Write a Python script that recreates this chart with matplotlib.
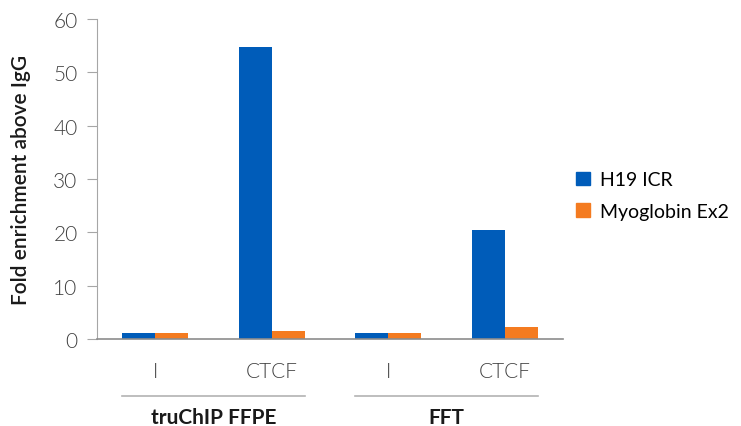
import matplotlib.pyplot as plt
import matplotlib.transforms as mtransforms
from matplotlib.patches import Patch
import numpy as np

plt.rcParams['font.family'] = ['Lato', 'DejaVu Sans']

# data
categories = ['I', 'CTCF', 'I', 'CTCF']
groups = ['truChIP FFPE', 'FFT']
group_members = [[0, 1], [2, 3]]
series_names = ['H19 ICR', 'Myoglobin Ex2']
h19_icr = [1.1, 54.8, 1.1, 20.4]
myoglobin_ex2 = [1.1, 1.5, 1.1, 2.2]
colors = ['#005CB9', '#F47B20']

fig = plt.figure(figsize=(7.41, 4.27), dpi=100)
ax = fig.add_axes([0.1309, 0.2037, 0.7598 - 0.1309, 0.9532 - 0.2037])

x = np.arange(len(categories))
w = 0.283
ax.bar(x - w / 2, h19_icr, w, color=colors[0], label=series_names[0])
ax.bar(x + w / 2, myoglobin_ex2, w, color=colors[1], label=series_names[1])

ax.set_xlim(-0.5, len(categories) - 0.5)
ax.set_ylim(0, 60)
ax.set_yticks(range(0, 61, 10))
ax.set_xticks(x)
ax.set_xticklabels(categories)

for s in ['top', 'right']:
    ax.spines[s].set_visible(False)
ax.spines['left'].set_color('#A6A6A6')
ax.spines['bottom'].set_color('#8C8C8C')
ax.spines['bottom'].set_linewidth(1.2)
ax.tick_params(axis='y', length=7, color='#A6A6A6', pad=7, labelsize=15,
               labelcolor='#404040')
ax.tick_params(axis='x', length=0, pad=16, labelsize=15, labelcolor='#404040')
for lab in ax.get_yticklabels() + ax.get_xticklabels():
    lab.set_fontweight(300)

ax.set_ylabel('Fold enrichment above IgG', fontsize=15, fontweight='semibold',
              color='#1a1a1a', labelpad=16)

# group labels under categories
trans = mtransforms.blended_transform_factory(ax.transData, ax.transAxes)
for name, members in zip(groups, group_members):
    x0 = members[0] - w
    x1 = members[-1] + w
    ax.plot([x0, x1], [-0.178, -0.178], color='#B3B3B3', lw=1.2,
            transform=trans, clip_on=False)
    ax.text((x0 + x1) / 2, -0.245, name, transform=trans, ha='center',
            va='center', fontsize=15, fontweight='bold', color='#1a1a1a')

handles = [Patch(color=c) for c in colors]
fig.legend(handles, series_names, loc='center left',
           bbox_to_anchor=(0.754, 0.54), frameon=False, fontsize=14,
           handlelength=0.7, handleheight=0.7, handletextpad=0.5,
           labelspacing=0.75)

fig.savefig('out.png', dpi=100)
